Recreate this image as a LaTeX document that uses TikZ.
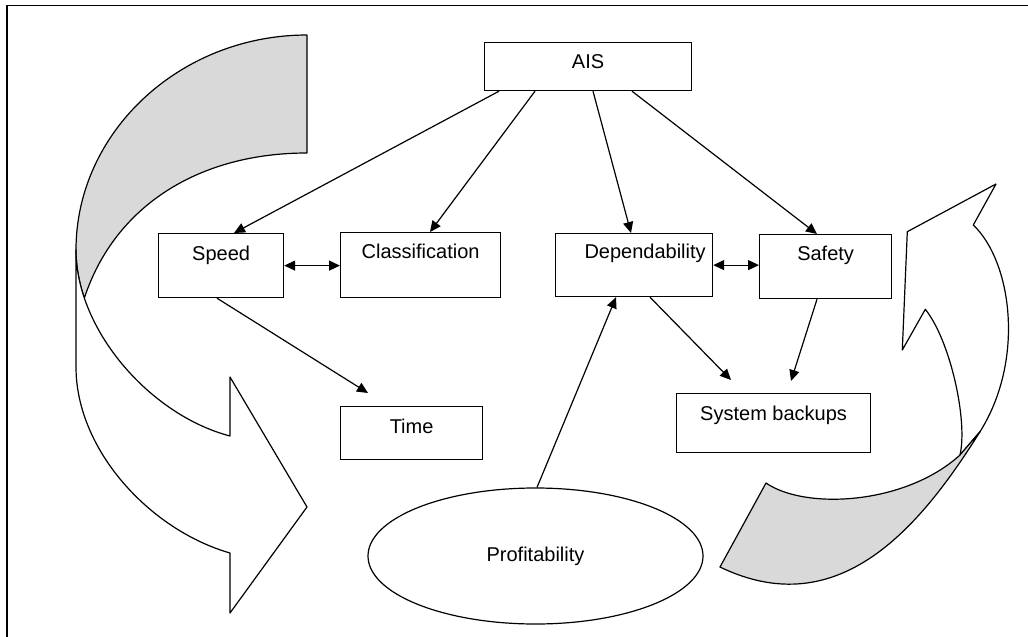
\documentclass[tikz,border=0pt]{standalone}
\usepackage{fontspec}
\setmainfont{Liberation Sans}
\usetikzlibrary{arrows.meta,shapes.geometric}
\definecolor{bandgray}{RGB}{217,217,217}

\begin{document}
\begin{tikzpicture}[x=1pt,y=-1pt,
    >={Triangle[length=11pt,width=10pt]},
    box/.style={draw,line width=1.2pt,inner sep=0pt,anchor=north west,font=\fontsize{20}{24}\selectfont},
    link/.style={->,line width=1.2pt},
    band/.style={line width=1.2pt,line join=round}]
  \useasboundingbox (0,0) rectangle (1028,637);
  \draw [line width=1.4pt] (7,637) -- (7,5.5) -- (1028,5.5);
  % left turning arrow
  \filldraw [band,fill=bandgray] (307,35) .. controls (180,35) and (76,132) .. (76,250)
        .. controls (76,266) and (78.96,282.2) .. (84.34,298.05)
        .. controls (115,205) and (200,153) .. (307,153) -- cycle;
  \filldraw [band,fill=white] (76,250) -- (76,367) .. controls (76,450) and (150,530) .. (230,553)
        -- (230,613) -- (307,507) -- (230,377) -- (230,436)
        .. controls (150,415) and (76,330) .. (76,250) -- cycle;
  % right turning arrow
  \filldraw [band,fill=white] (960,455) .. controls (968,420) and (950,340) .. (925.3,309.3)
        -- (902.3,350) -- (907.3,231.7) -- (996,184) -- (973.3,225)
        .. controls (1012,262) and (1025,360) .. (980,431.7) -- cycle;
  \filldraw [band,fill=bandgray] (980,431.7) .. controls (921.5,525) and (840,625) .. (720,567)
        -- (766,483) .. controls (805,510) and (905,505) .. (960,455) -- cycle;
  % boxes
  \node [box,minimum width=207pt,text height=26pt,text depth=22pt] (ais) at (484,42) {AIS\hspace{52pt}};
  \node [box,minimum width=125pt,text height=27pt,text depth=37pt] (speed) at (158,233) {Speed};
  \node [box,minimum width=160pt,text height=26pt,text depth=39pt] (class) at (340,232) {Classification};
  \node [box,minimum width=157pt,text height=25pt,text depth=38pt] (depend) at (555,233) {\hspace{22pt}Dependability};
  \node [box,minimum width=132pt,text height=26pt,text depth=38pt] (safety) at (759,234) {Safety};
  \node [box,minimum width=142pt,text height=27pt,text depth=26pt] (time) at (340,406) {Time};
  \node [box,minimum width=194pt,text height=27pt,text depth=32pt] (backup) at (676,393) {System backups};
  \node [draw,ellipse,line width=1.2pt,minimum width=335pt,minimum height=136pt,inner sep=0pt,
         font=\fontsize{20}{24}\selectfont] (profit) at (535.5,556) {Profitability\hspace{34pt}};
  % connectors
  \draw [link] ([xshift=15pt]ais.south west) -- ([xshift=76pt]speed.north west);
  \draw [link] ([xshift=51pt]ais.south west) -- ([xshift=90pt]class.north west);
  \draw [link] ([xshift=109pt]ais.south west) -- ([xshift=76pt]depend.north west);
  \draw [link] ([xshift=148pt]ais.south west) -- ([xshift=58pt]safety.north west);
  \draw [<->,line width=1.2pt] (speed.east) -- (speed.east -| class.west);
  \draw [<->,line width=1.2pt] (depend.east) -- (depend.east -| safety.west);
  \draw [link] ([xshift=59pt]speed.south west) -- ([xshift=28pt,yshift=13pt]time.north west);
  \draw [link] ([xshift=95pt]depend.south west) -- ([xshift=55pt,yshift=13pt]backup.north west);
  \draw [link] ([xshift=58pt]safety.south west) -- ([xshift=115pt,yshift=12pt]backup.north west);
  \draw [link] ([xshift=1.5pt]profit.north) -- ([xshift=61pt]depend.south west);
\end{tikzpicture}
\end{document}
